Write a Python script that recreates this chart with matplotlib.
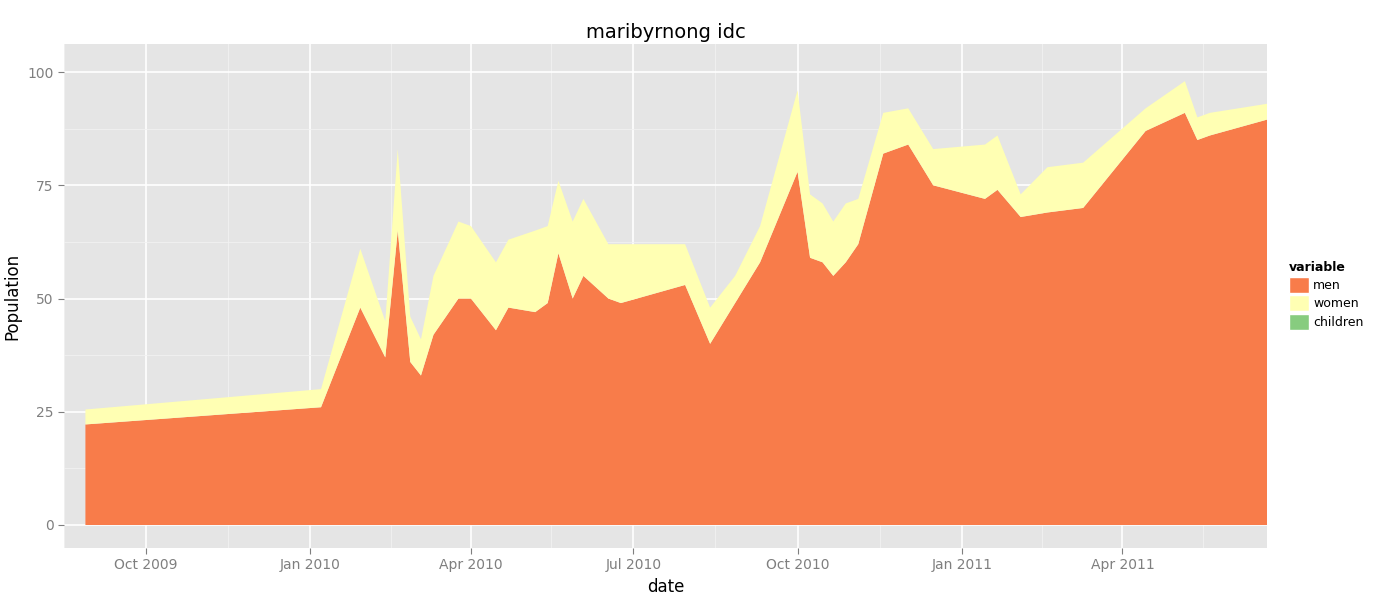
import matplotlib
matplotlib.use("Agg")
import matplotlib.pyplot as plt
import matplotlib.dates as mdates
import numpy as np
import pandas as pd
from matplotlib.patches import Patch

dates = ["2009-08-28","2010-01-07","2010-01-29","2010-02-12","2010-02-19","2010-02-26",
         "2010-03-04","2010-03-11","2010-03-25","2010-04-01","2010-04-15","2010-04-22",
         "2010-05-07","2010-05-14","2010-05-20","2010-05-28","2010-06-03","2010-06-17",
         "2010-06-24","2010-07-30","2010-08-13","2010-08-27","2010-09-10","2010-10-01",
         "2010-10-08","2010-10-15","2010-10-21","2010-10-28","2010-11-04","2010-11-18",
         "2010-12-02","2010-12-16","2011-01-14","2011-01-21","2011-02-03","2011-02-18",
         "2011-03-10","2011-04-14","2011-05-06","2011-05-13","2011-05-20","2011-06-21"]
men = [22.2,26,48,37,65,36,33,42,50,50,43,48,47,49,60,50,55,50,49,53,40,49,58,78,
       59,58,55,58,62,82,84,75,72,74,68,69,70,87,91,85,86,89.5]
total = [25.5,30,61,45,83,46,41,55,67,66,58,63,65,66,76,67,72,62,62,62,48,55,66,96,
         73,71,67,71,72,91,92,83,84,86,73,79,80,92,98,90,91,93]
women = [t - m for t, m in zip(total, men)]
children = [0] * len(men)

labels = ["men", "women", "children"]
colors = ["#F87C4A", "#FFFFB3", "#87CC7F"]

x = pd.to_datetime(dates)
fig = plt.figure(figsize=(14, 6), dpi=100)
ax = fig.add_axes([64/1400, 52/600, (1267-64)/1400, (548-44)/600])
ax.set_facecolor("#E5E5E5")
ax.stackplot(x, men, women, children, colors=colors, linewidth=0)

ax.set_xlim(x[0], x[-1])
ax.set_ylim(-5.08, 106.2)
major = pd.to_datetime(["2009-10-01","2010-01-01","2010-04-01","2010-07-01","2010-10-01","2011-01-01","2011-04-01"])
minor = pd.to_datetime(["2009-08-16","2009-11-16","2010-02-15","2010-05-16","2010-08-16","2010-11-16","2011-02-15","2011-05-16"])
ax.set_xticks(major)
ax.set_xticklabels(["Oct 2009","Jan 2010","Apr 2010","Jul 2010","Oct 2010","Jan 2011","Apr 2011"])
ax.set_xticks(minor, minor=True)
ax.set_yticks([0, 25, 50, 75, 100])
ax.set_yticks([12.5, 37.5, 62.5, 87.5], minor=True)
ax.grid(which="major", color="white", linewidth=1.2)
ax.grid(which="minor", color="#F2F2F2", linewidth=0.6)
ax.set_axisbelow(True)
for s in ax.spines.values():
    s.set_visible(False)
ax.tick_params(which="both", length=4, color="#7F7F7F", labelsize=10, labelcolor="#7F7F7F")
ax.tick_params(which="minor", length=0)
ax.set_xlabel("date", fontsize=12)
ax.set_ylabel("Population", fontsize=12)
ax.set_title("maribyrnong idc", fontsize=14, pad=4)

handles = [Patch(facecolor=c, edgecolor="white", label=l) for c, l in zip(colors, labels)]
leg = fig.legend(handles=handles, title="variable", loc="upper left",
                 bbox_to_anchor=(1278/1400, 350/600), frameon=False, fontsize=9,
                 handlelength=1.6, handleheight=1.6, handletextpad=0.3, labelspacing=0.2)
leg.get_title().set_fontweight("bold")
leg.get_title().set_fontsize(9)
leg._legend_box.align = "left"
fig.savefig("out.png", dpi=100)
